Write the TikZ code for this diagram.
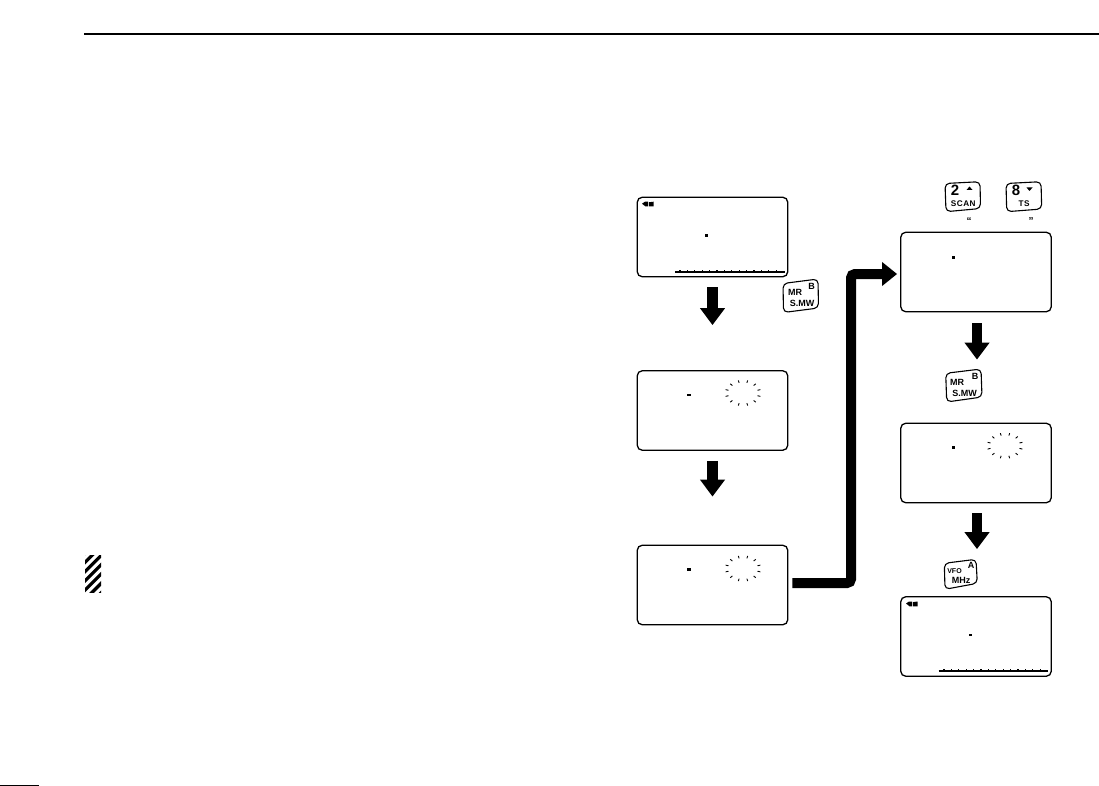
\documentclass[tikz,border=0pt]{standalone}
\usepackage{fontspec}
\setmainfont{Liberation Sans}
\usetikzlibrary{arrows.meta}
\tikzset{
  screen/.style={draw=black,line width=1.3pt,rounded corners=5pt,minimum width=150.5pt,minimum height=79.5pt,inner sep=0pt,fill=white},
  keybox/.style={draw=black,line width=1.1pt,rounded corners=4.5pt,line join=round},
  keytxt/.style={inner sep=0pt,font=\bfseries\fontsize{9}{9}\selectfont},
  keybig/.style={inner sep=0pt,font=\bfseries\fontsize{15}{15}\selectfont},
  keysmall/.style={inner sep=0pt,font=\bfseries\fontsize{7}{7}\selectfont},
  keyspaced/.style={inner sep=0pt,font=\bfseries\fontsize{8.2}{8.2}\selectfont\addfontfeature{LetterSpace=6}},
  quotemark/.style={inner sep=0pt,font=\bfseries\fontsize{10}{10}\selectfont},
  flow/.style={line width=10.5pt,-{Triangle[length=17pt,width=24pt]}},
  rule/.style={line width=2pt},
}
\newcommand{\burst}[2]{%
  \foreach \a in {15,45,...,345}{
    \draw[line width=0.9pt] ({#1+15*cos(\a)},{#2+10.5*sin(\a)}) -- ({#1+18*cos(\a)},{#2+13*sin(\a)});
  }}
\newcommand{\lcddot}[2]{\fill (#1-1.7,#2-1.3) rectangle (#1+1.7,#2+1.3);}
\newcommand{\lcdicon}[2]{%
  \fill (#1,#2+2) -- (#1+3,#2) -- (#1+6,#2) -- (#1+6,#2+4.8) -- (#1+3.5,#2+4.8) -- cycle;
  \fill (#1+6.8,#2+0.6) -- (#1+11.5,#2) -- (#1+11.5,#2+4.8) -- (#1+6.8,#2+4.8) -- cycle;}
\newcommand{\lcdbar}[3]{%
  \draw[line width=1.1pt] (#1,#3) -- (#1+109.5,#3);
  \foreach \k in {0,...,13}{
    \fill ({#2+7.4*\k-0.6},#3-1.7) rectangle ({#2+7.4*\k+0.6},#3);
  }}
\begin{document}
\begin{tikzpicture}[x=1pt,y=-1pt]
\useasboundingbox (0,0) rectangle (1099,786);
\draw[rule] (84,34) -- (1099,34);
\draw[rule] (0,785.5) -- (39,785.5);
% hatch
\begin{scope}
\clip (85,555) rectangle (101,592);
\foreach \k in {0,...,6}{
  \draw[line width=3.2pt] (80,{558+9.3*\k}) -- (106,{558+9.3*\k-26});
}
\end{scope}
% screens
\node[screen] (s1) at (712.5,237) {};
\node[screen] (s2) at (712.5,410.5) {};
\node[screen] (s3) at (712.5,585) {};
\node[screen] (r1) at (976,272) {};
\node[screen] (r2) at (976,463) {};
\node[screen] (r3) at (976,636.5) {};
% flow arrows
\draw[flow,shorten <=10pt,shorten >=45pt] (s1.south) -- (s2.north);
\draw[flow,shorten <=10pt,shorten >=48pt] (s2.south) -- (s3.north);
\draw[flow,shorten <=11pt,shorten >=63pt] ([xshift=1pt]r1.south) -- ([xshift=1pt]r2.north);
\draw[flow,shorten <=10pt,shorten >=47pt] ([xshift=1pt]r2.south) -- ([xshift=1pt]r3.north);
\coordinate (bendA) at (851,583);
\coordinate (bendB) at (851,274);
\draw[line width=10pt,rounded corners=4pt,shorten <=4pt,shorten >=3pt,-{Triangle[length=15pt,width=23pt]}]
  (s3.east |- bendA) -- (bendA) -- (bendB) -- (r1.west |- bendB);
% screen contents
\lcdicon{642}{201.7}
\lcddot{706.7}{235.5}
\lcdbar{675}{680}{272}
\lcddot{689}{395}
\burst{743}{393}
\lcddot{689}{569.7}
\burst{743}{568.5}
\lcddot{953.3}{257.3}
\lcddot{953.3}{447.7}
\burst{1005}{445.7}
\lcdicon{906}{601.5}
\lcddot{970.3}{635}
\lcdbar{938.5}{944}{671}
% MR key 1
\draw[keybox] (783,283.5) -- (818,279) -- (818.5,308) -- (783.5,312.5) -- cycle;
\node[keytxt] (k1a) at (795,292) {MR};
\node[keytxt] (k1b) at (811.5,286) {B};
\node[keytxt] (k1c) at (802,303) {S.MW};
% MR key 2
\draw[keybox] (945.7,373.3) -- (981,369) -- (982,397) -- (946.7,402) -- cycle;
\node[keytxt] (k2a) at (957,382) {MR};
\node[keytxt] (k2b) at (975,376) {B};
\node[keytxt] (k2c) at (964.5,393) {S.MW};
% VFO key
\draw[keybox] (944.3,563.3) -- (976,559.3) -- (977.3,583.3) -- (945,589.3) -- cycle;
\node[keysmall] (k3a) at (954.5,570.7) {VFO};
\node[keytxt] (k3b) at (971,565.7) {A};
\node[keytxt] (k3c) at (961,580.7) {MHz};
% 2 SCAN key
\draw[keybox] (945,183.5) -- (980,181.7) -- (980.5,208.5) -- (946,211.7) -- cycle;
\node[keybig] (k4a) at (955,190.7) {2};
\fill (966.5,190) -- (972.5,190) -- (969.5,186.5) -- cycle;
\node[keyspaced] (k4b) at (963.3,204) {SCAN};
\node[quotemark] (q1) at (969,221) {“};
% 8 TS key
\draw[keybox] (1006,183.5) -- (1041,181.7) -- (1041.7,209) -- (1006.7,211.7) -- cycle;
\node[keybig] (k5a) at (1016,190.7) {8};
\fill (1026.5,187.5) -- (1032.5,187.5) -- (1029.5,191) -- cycle;
\node[keyspaced] (k5b) at (1024,204) {TS};
\node[quotemark] (q2) at (1031,221) {”};
\end{tikzpicture}
\end{document}
